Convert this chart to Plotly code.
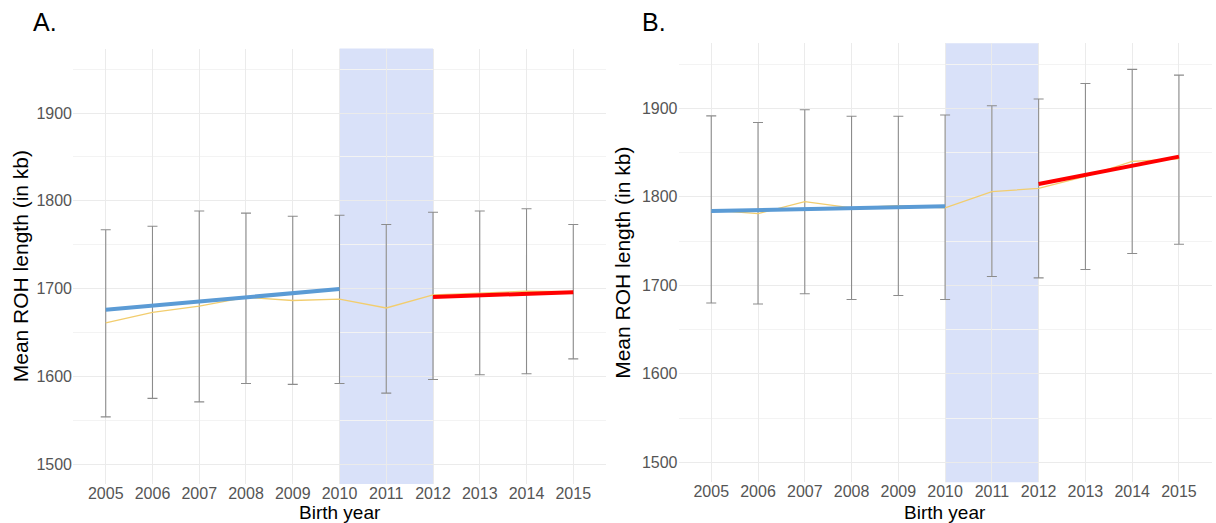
import plotly.graph_objects as go

years = [2005, 2006, 2007, 2008, 2009, 2010, 2011, 2012, 2013, 2014, 2015]

# Panel A: error bar extents (mean +/- sd)
a_upper = [1767, 1771, 1788.5, 1786, 1782.5, 1783.5, 1773, 1787, 1788.5, 1791, 1773]
a_lower = [1554, 1575, 1571, 1592, 1591, 1592, 1581, 1596.5, 1602, 1603, 1620]
a_mean = [1661, 1673, 1680, 1690, 1686.5, 1688, 1678, 1693, 1695, 1697, 1696.5]
a_fit_before_x = [2005, 2010]
a_fit_before_y = [1676, 1699.5]
a_fit_after_x = [2012, 2015]
a_fit_after_y = [1690.5, 1696]

# Panel B
b_upper = [1891.5, 1884, 1898.5, 1891, 1891, 1892.5, 1903, 1910.5, 1928, 1944, 1937.5]
b_lower = [1680, 1679, 1690.5, 1684, 1688.5, 1684, 1710, 1708.5, 1718, 1736, 1746.5]
b_mean = [1785, 1781, 1794.5, 1787.5, 1790, 1787.5, 1806, 1809.5, 1823, 1840, 1843]
b_fit_before_x = [2005, 2010]
b_fit_before_y = [1784, 1789.3]
b_fit_after_x = [2012, 2015]
b_fit_after_y = [1814.5, 1845.5]

shade_x = [2010, 2012]
y_ticks = [1500, 1600, 1700, 1800, 1900]
y_minor = [1550, 1650, 1750, 1850, 1950]

W, H = 1216, 523
FONT = "'Liberation Sans', Arial, sans-serif"
GRID = "#EBEBEB"

fig = go.Figure()

panels = [
    dict(upper=a_upper, lower=a_lower, mean=a_mean,
         bx=a_fit_before_x, by=a_fit_before_y, rx=a_fit_after_x, ry=a_fit_after_y,
         xs="x", ys="y", xdom=[73 / W, 606 / W], ydom=[(H - 484) / H, (H - 48.5) / H],
         label="A.", lx=31 / W, ytx=20 / W),
    dict(upper=b_upper, lower=b_lower, mean=b_mean,
         bx=b_fit_before_x, by=b_fit_before_y, rx=b_fit_after_x, ry=b_fit_after_y,
         xs="x2", ys="y2", xdom=[678.5 / W, 1211.7 / W], ydom=[(H - 482.3) / H, (H - 43.3) / H],
         label="B.", lx=640 / W, ytx=623 / W),
]

layout_axes = {}
annotations = []
shapes = []
for i, p in enumerate(panels):
    mean = p["mean"]
    err_plus = [u - m for u, m in zip(p["upper"], mean)]
    err_minus = [m - l for m, l in zip(mean, p["lower"])]
    fig.add_trace(go.Scatter(
        x=years, y=mean, mode="markers",
        marker=dict(size=1, color="rgba(0,0,0,0)"),
        error_y=dict(type="data", array=err_plus, arrayminus=err_minus,
                     color="#8C8C8C", thickness=1.1, width=5),
        xaxis=p["xs"], yaxis=p["ys"], showlegend=False, hoverinfo="skip"))
    fig.add_trace(go.Scatter(
        x=years, y=mean, mode="lines", line=dict(color="#F2CD6E", width=1.3),
        xaxis=p["xs"], yaxis=p["ys"], showlegend=False))
    fig.add_trace(go.Scatter(
        x=p["bx"], y=p["by"], mode="lines", line=dict(color="#5B9BD5", width=4),
        xaxis=p["xs"], yaxis=p["ys"], showlegend=False))
    fig.add_trace(go.Scatter(
        x=p["rx"], y=p["ry"], mode="lines", line=dict(color="#FF0000", width=4),
        xaxis=p["xs"], yaxis=p["ys"], showlegend=False))

    xname = "xaxis" if i == 0 else "xaxis2"
    yname = "yaxis" if i == 0 else "yaxis2"
    layout_axes[xname] = dict(
        domain=p["xdom"], anchor=p["ys"], range=[2004.3, 2015.7],
        tickmode="array", tickvals=years, ticktext=[str(y) for y in years],
        showgrid=True, gridcolor=GRID, gridwidth=1, zeroline=False, showline=False,
        ticks="", ticklabelstandoff=-2, tickfont=dict(family=FONT, size=16, color="#555555"))
    layout_axes[yname] = dict(
        domain=p["ydom"], anchor=p["xs"], range=[1477.5, 1973.5],
        tickmode="array", tickvals=y_ticks, ticktext=[str(v) for v in y_ticks],
        showgrid=True, gridcolor=GRID, gridwidth=1, zeroline=False, showline=False,
        ticks="", tickfont=dict(family=FONT, size=16, color="#555555"),
        minor=dict(tickmode="array", tickvals=y_minor, showgrid=True, gridcolor="#F3F3F3", gridwidth=1))

    shapes.append(dict(type="rect", xref=p["xs"], yref=p["ys"] + " domain",
                       x0=shade_x[0], x1=shade_x[1], y0=0, y1=1,
                       fillcolor="rgba(65,105,225,0.2)", line=dict(width=0), layer="below"))

    annotations.append(dict(text=p["label"], x=p["lx"], y=1 - 6 / H, xref="paper", yref="paper",
                            xanchor="left", yanchor="top", showarrow=False,
                            font=dict(family=FONT, size=25, color="#000000")))
    annotations.append(dict(text="Mean ROH length (in kb)", x=p["ytx"], y=(p["ydom"][0] + p["ydom"][1]) / 2,
                            xref="paper", yref="paper", xanchor="center", yanchor="middle",
                            textangle=-90, showarrow=False,
                            font=dict(family=FONT, size=21, color="#000000")))
    annotations.append(dict(text="Birth year", x=(p["xdom"][0] + p["xdom"][1]) / 2, y=1 - 512 / H,
                            xref="paper", yref="paper", xanchor="center", yanchor="middle",
                            showarrow=False, font=dict(family=FONT, size=19, color="#000000")))

fig.update_layout(
    width=W, height=H, margin=dict(l=0, r=0, t=0, b=0),
    paper_bgcolor="white", plot_bgcolor="white",
    shapes=shapes, annotations=annotations, **layout_axes)

fig.write_html("out.html")
